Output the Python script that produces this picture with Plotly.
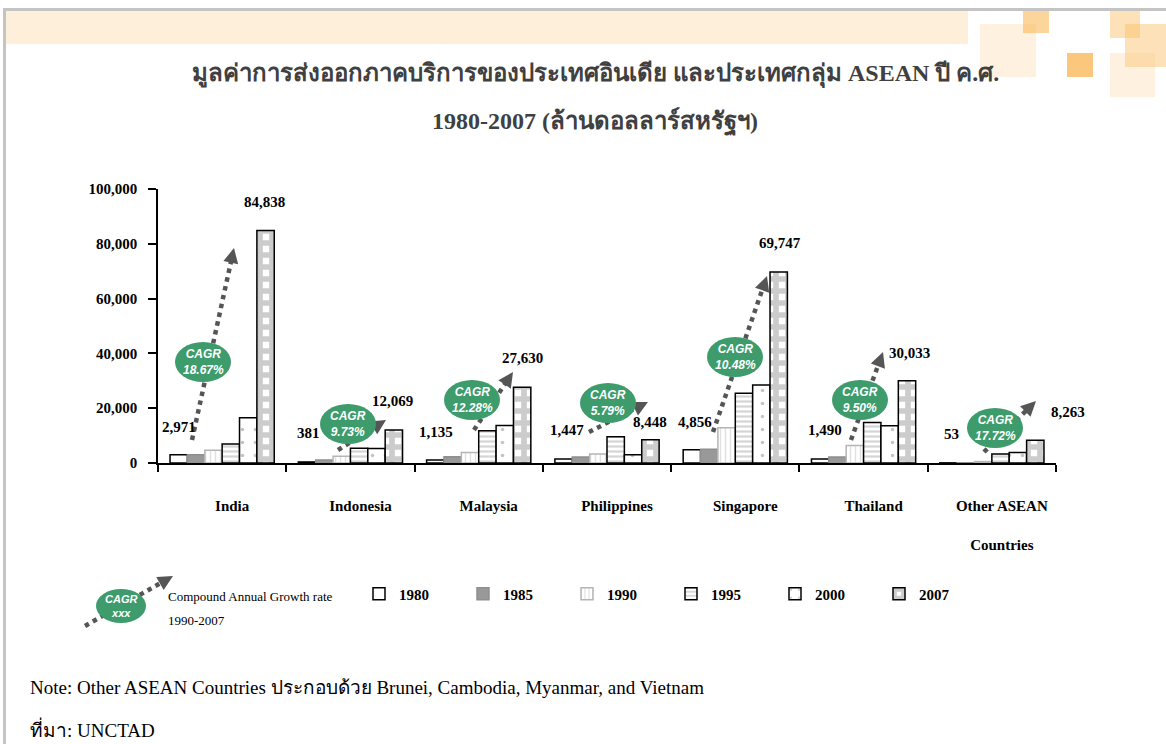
import math
import plotly.graph_objects as go

# ---------------- data ----------------
countries = ["India", "Indonesia", "Malaysia", "Philippines", "Singapore",
             "Thailand", "Other ASEAN<br><br>Countries"]
years = ["1980", "1985", "1990", "1995", "2000", "2007"]
v1980 = [2971, 381, 1135, 1447, 4856, 1490, 53]
v1985 = [3000, 1100, 2300, 2200, 5000, 2200, 100]
v1990 = [4620, 2490, 3860, 3250, 12820, 6420, 520]
v1995 = [6900, 5400, 11800, 9600, 25500, 14800, 3300]
v2000 = [16500, 5300, 13700, 3000, 28500, 13600, 3800]
v2007 = [84838, 12069, 27630, 8448, 69747, 30033, 8263]
cagr = ["18.67%", "9.73%", "12.28%", "5.79%", "10.48%", "9.50%", "17.72%"]
series = [v1980, v1985, v1990, v1995, v2000, v2007]

# ---------------- layout constants ----------------
W, H = 1166, 744
L, R, T, B = 158, 1056, 189, 463
SERIF = "Liberation Serif, Times New Roman, Noto Sans, DejaVu Sans, serif"
SANS = "Liberation Sans, Arial, sans-serif"
GREEN = "#3d9b6c"
ARROW = "#555555"
BARGAP = 0.1875


def px(x):
    return (x - L) / (R - L)


def py(y):
    return (B - y) / (B - T)


styles = [
    dict(color="white", line=dict(color="black", width=1.5)),
    dict(color="#999999", line=dict(color="#8f8f8f", width=1.5)),
    dict(color="white", line=dict(color="#b5b5b5", width=1.5),
         pattern=dict(shape="|", fgcolor="#c4c4c4", bgcolor="white", size=5, solidity=0.3)),
    dict(color="white", line=dict(color="black", width=1.5),
         pattern=dict(shape="-", fgcolor="#ababab", bgcolor="white", size=5, solidity=0.45)),
    dict(color="white", line=dict(color="black", width=1.5),
         pattern=dict(shape=".", fgcolor="#8a8a8a", bgcolor="white", size=13, solidity=0.06)),
    dict(color="white", line=dict(color="black", width=1.5),
         pattern=dict(shape="+", fgcolor="#9a9a9a", bgcolor="white", size=12, solidity=0.72)),
]

fig = go.Figure()
for yr, vals, st in zip(years, series, styles):
    fig.add_trace(go.Bar(x=countries, y=vals, name=yr, marker=st, hoverinfo="skip"))

shapes = []
annotations = []

# ---------------- value labels (1980 and 2007) ----------------
nb = len(years)
bw = (1 - BARGAP) / nb
lab1980_dx = [0, 1, 1, 3, 3, 5, 3]
lab1980_dy = [28, 29, 28, 29, 28, 29, 29]
lab2007_dx = [-1, -1, 0, 0, 1, 2, 33]
lab2007_dy = [29, 29, 29, 18, 29, 28, 28]
for i in range(len(countries)):
    for j, dxl, dyl in ((0, lab1980_dx, lab1980_dy), (5, lab2007_dx, lab2007_dy)):
        off = -(1 - BARGAP) / 2 + bw * (j + 0.5)
        annotations.append(dict(
            x=i + off, y=series[j][i], xref="x", yref="y",
            text=f"{series[j][i]:,}", showarrow=False,
            xanchor="center", yanchor="middle",
            xshift=dxl[i], yshift=dyl[i],
            font=dict(family=SERIF, size=15, color="black", weight="bold")))


# ---------------- CAGR decorations ----------------
def add_arrow(x0, y0, x1, y1, head=15, hw=7.5):
    d = math.hypot(x1 - x0, y1 - y0)
    ux, uy = (x1 - x0) / d, (y1 - y0) / d
    bx, by = x1 - ux * head, y1 - uy * head
    nx, ny = -uy, ux
    shapes.append(dict(type="line", xref="paper", yref="paper",
                       x0=px(x0), y0=py(y0), x1=px(bx + ux * 2), y1=py(by + uy * 2),
                       line=dict(color=ARROW, width=4.5, dash="dot")))
    p = (f"M{px(x1)},{py(y1)} L{px(bx + nx * hw)},{py(by + ny * hw)} "
         f"L{px(bx - nx * hw)},{py(by - ny * hw)} Z")
    shapes.append(dict(type="path", xref="paper", yref="paper", path=p,
                       fillcolor=ARROW, line=dict(width=0)))


def add_ellipse(cx, cy, text, w=56, h=40, size=12):
    shapes.append(dict(type="circle", xref="paper", yref="paper",
                       x0=px(cx - w / 2), x1=px(cx + w / 2),
                       y0=py(cy + h / 2), y1=py(cy - h / 2),
                       fillcolor=GREEN, line=dict(width=0)))
    annotations.append(dict(x=px(cx), y=py(cy), xref="paper", yref="paper",
                            text=text, showarrow=False, xanchor="center", yanchor="middle",
                            font=dict(family=SANS, size=size, color="white", weight="bold",
                                      style="italic")))


ell_pos = [(203, 362), (348, 424), (472, 400), (608, 403), (735, 357), (860, 400), (995, 428)]
arr_pos = [(192, 440, 234, 248), (338, 450, 386, 420), (474, 430, 513, 372),
           (589, 432, 648, 402), (713, 432, 767, 276), (851, 440, 883, 352),
           (984, 452, 1036, 401)]
for (cx, cy), (a0, b0, a1, b1), c in zip(ell_pos, arr_pos, cagr):
    add_arrow(a0, b0, a1, b1)
    add_ellipse(cx, cy, f"CAGR<br>{c}")

# legend key for CAGR
add_arrow(85, 626, 173, 576)
add_ellipse(121, 606, "CAGR<br>xxx", w=50, h=34, size=11)
annotations.append(dict(x=px(166), y=py(596), xref="paper", yref="paper",
                        text="Compound Annual Growth rate", showarrow=False,
                        xanchor="left", yanchor="middle",
                        font=dict(family=SERIF, size=13, color="black")))
annotations.append(dict(x=px(166), y=py(620), xref="paper", yref="paper",
                        text="1990-2007", showarrow=False,
                        xanchor="left", yanchor="middle",
                        font=dict(family=SERIF, size=13, color="black")))

# ---------------- titles and notes ----------------
annotations.append(dict(x=px(595), y=py(75), xref="paper", yref="paper",
                        text="มูลค่าการส่งออกภาคบริการของประเทศอินเดีย และประเทศกลุ่ม ASEAN ปี ค.ศ.",
                        showarrow=False, xanchor="center", yanchor="middle",
                        font=dict(family=SERIF, size=24, color="#404040", weight="bold")))
annotations.append(dict(x=px(595), y=py(122), xref="paper", yref="paper",
                        text="1980-2007 (ล้านดอลลาร์สหรัฐฯ)",
                        showarrow=False, xanchor="center", yanchor="middle",
                        font=dict(family=SERIF, size=24, color="#404040", weight="bold")))
annotations.append(dict(x=px(28), y=py(687), xref="paper", yref="paper",
                        text="Note: Other ASEAN Countries ประกอบด้วย Brunei, Cambodia, Myanmar, and Vietnam",
                        showarrow=False, xanchor="left", yanchor="middle",
                        font=dict(family=SERIF, size=19, color="black")))
annotations.append(dict(x=px(28), y=py(729), xref="paper", yref="paper",
                        text="ที่มา: UNCTAD",
                        showarrow=False, xanchor="left", yanchor="middle",
                        font=dict(family=SERIF, size=19, color="black")))

# ---------------- slide decoration ----------------
def rect(x0, y0, x1, y1, color, layer="below"):
    shapes.append(dict(type="rect", xref="paper", yref="paper", layer=layer,
                       x0=px(x0), x1=px(x1), y0=py(y1), y1=py(y0),
                       fillcolor=color, line=dict(width=0)))


rect(5, 11, 968, 44, "rgba(252,205,140,0.32)")
rect(980, 24, 1036, 77, "rgba(252,205,140,0.28)")
rect(1023, 11, 1049, 33, "rgba(250,185,90,0.60)")
rect(1067, 53, 1093, 77, "rgba(250,180,80,0.75)")
rect(1110, 11, 1140, 38, "rgba(250,190,100,0.45)")
rect(1125, 24, 1166, 67, "rgba(250,190,100,0.45)")
rect(1110, 53, 1155, 97, "rgba(252,205,140,0.28)")
rect(3, 8, 1166, 11, "#c4c4c4")
rect(3, 8, 6, 744, "#c4c4c4")

fig.update_layout(
    width=W, height=H,
    margin=dict(l=L, r=W - R, t=T, b=H - B, pad=0),
    paper_bgcolor="white", plot_bgcolor="white",
    barmode="group", bargap=BARGAP, bargroupgap=0,
    shapes=shapes, annotations=annotations,
    showlegend=True,
    legend=dict(orientation="h", x=px(359), y=py(594), xanchor="left", yanchor="middle",
                font=dict(family=SERIF, size=15, color="black", weight="bold"),
                entrywidth=59, entrywidthmode="pixels", bgcolor="rgba(0,0,0,0)",
                itemclick=False, itemdoubleclick=False),
    xaxis=dict(type="category", range=[-0.5, len(countries) - 0.5], autorange=False,
               showline=True, linecolor="black", linewidth=1.5,
               ticks="outside", tickson="boundaries", ticklen=7, tickcolor="black",
               tickwidth=1.5, showgrid=False, ticklabelstandoff=28, ticklabelshift=10,
               tickfont=dict(family=SERIF, size=15, color="black", weight="bold")),
    yaxis=dict(range=[0, 100000], autorange=False, tick0=0, dtick=20000, tickformat=",d",
               showline=True, linecolor="black", linewidth=1.5, ticks="outside",
               ticklen=8, tickcolor="black", tickwidth=1.5, showgrid=False,
               zeroline=False, ticklabelstandoff=8,
               tickfont=dict(family=SERIF, size=15, color="black", weight="bold")),
)

fig.write_html("out.html", config={"displayModeBar": False},
               post_script="document.body.style.margin='0px';")
